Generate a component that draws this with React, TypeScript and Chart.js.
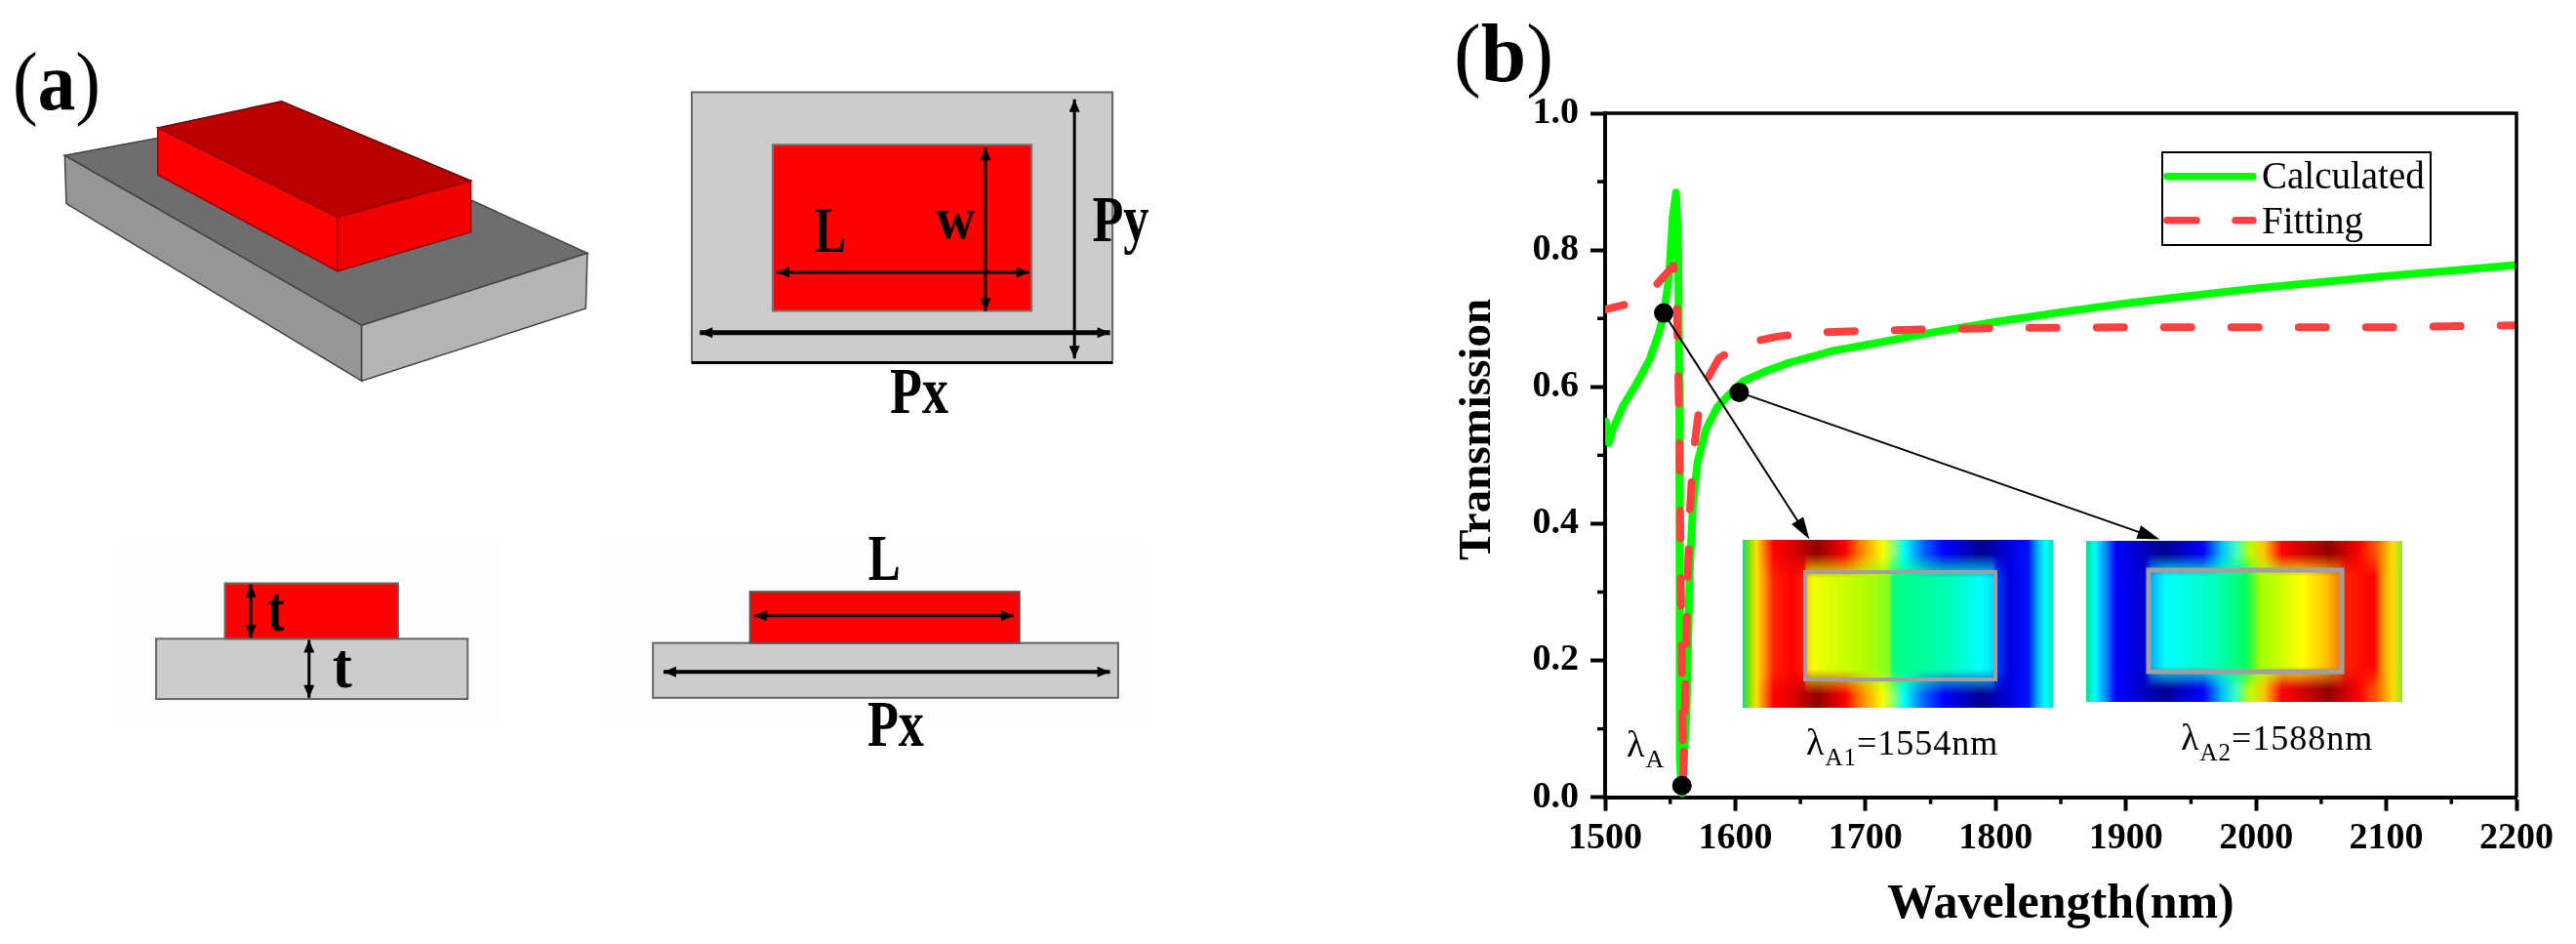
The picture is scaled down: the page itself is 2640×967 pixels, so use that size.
import React, { useEffect, useRef } from "react";
import { Chart, registerables } from "chart.js";

Chart.register(...registerables);

const SERIF = "'Liberation Serif', serif";

const calcX = [1500.5, 1503, 1506, 1514, 1524, 1534, 1541, 1545, 1549, 1552, 1554.5, 1556, 1557, 1557.2, 1557.6, 1559, 1562.5, 1565, 1567.5, 1571, 1577.5, 1586, 1596, 1606, 1621, 1641, 1676, 1700, 1750, 1800, 1850, 1900, 1950, 2000, 2050, 2100, 2150, 2200];
const calcY = [0.549, 0.518, 0.538, 0.573, 0.604, 0.639, 0.677, 0.704, 0.76, 0.85, 0.884, 0.815, 0.608, 0.331, 0.054, 0.006, 0.123, 0.331, 0.428, 0.49, 0.538, 0.57, 0.59, 0.608, 0.621, 0.635, 0.653, 0.661, 0.679, 0.695, 0.709, 0.722, 0.733, 0.744, 0.753, 0.762, 0.77, 0.778];
const fitX = [1500, 1519, 1535, 1552.5, 1555, 1556, 1557, 1557.5, 1558, 1559, 1560, 1562, 1563, 1565, 1567.5, 1572.5, 1577.5, 1587.5, 1606, 1631, 1655, 1700, 1750, 1800, 1900, 2000, 2100, 2200];
const fitY = [0.713, 0.722, 0.74, 0.777, 0.732, 0.642, 0.538, 0.435, 0.331, 0.192, 0.026, 0.192, 0.296, 0.414, 0.497, 0.573, 0.608, 0.642, 0.663, 0.673, 0.679, 0.682, 0.684, 0.686, 0.687, 0.687, 0.687, 0.69];
const markerX = [1545, 1603, 1559];
const markerY = [0.708, 0.592, 0.017];
const arrowTipX = [1657, 1926];
const arrowTipY = [0.377, 0.377];
const xMinor = [1550, 1650, 1750, 1850, 1950, 2050, 2150];
const yMinor = [0.1, 0.3, 0.5, 0.7, 0.9];
const seriesNames = ["Calculated", "Fitting"];
const xTitle = "Wavelength(nm)";
const yTitle = "Transmission";

type Stop = [number, string];
const map1Mid: Stop[] = [[0, "#00e090"], [0.02, "#80e000"], [0.044, "#ffe000"], [0.075, "#ff8000"], [0.1, "#ff2000"], [0.16, "#ff0000"], [0.197, "#ff2000"], [0.207, "#ffd000"], [0.227, "#f0ff00"], [0.4, "#b0ff00"], [0.47, "#80ff20"], [0.486, "#00ff80"], [0.65, "#00ffb0"], [0.77, "#00ffff"], [0.806, "#00e0ff"], [0.817, "#0040ff"], [0.86, "#0000e0"], [0.92, "#0010ff"], [0.95, "#00b0ff"], [0.975, "#00ffff"], [1, "#00e0c0"]];
const map1Edge: Stop[] = [[0, "#00e090"], [0.02, "#80e000"], [0.044, "#ffe000"], [0.1, "#ff0000"], [0.16, "#e00000"], [0.24, "#900000"], [0.33, "#ff0000"], [0.38, "#ff8000"], [0.45, "#ffff00"], [0.49, "#80ff80"], [0.52, "#00ffff"], [0.585, "#0060ff"], [0.65, "#0000ff"], [0.77, "#000090"], [0.86, "#0000e0"], [0.92, "#0010ff"], [0.95, "#00b0ff"], [0.975, "#00ffff"], [1, "#00e0c0"]];
const map2Mid: Stop[] = [[0, "#00e090"], [0.027, "#00ffff"], [0.065, "#0080ff"], [0.094, "#0000ff"], [0.184, "#0000d0"], [0.206, "#00b0ff"], [0.25, "#00ffff"], [0.4, "#00ffc0"], [0.505, "#00ff60"], [0.55, "#a0ff00"], [0.685, "#ffff00"], [0.76, "#ffc000"], [0.8, "#ff8000"], [0.82, "#ff2000"], [0.91, "#ff0000"], [0.94, "#ffa000"], [0.97, "#ffe000"], [1, "#90e030"]];
const map2Edge: Stop[] = [[0, "#00e090"], [0.027, "#00ffff"], [0.065, "#0080ff"], [0.094, "#0000ff"], [0.25, "#000090"], [0.37, "#0000ff"], [0.43, "#00c0ff"], [0.475, "#40ffc0"], [0.52, "#c0ff00"], [0.565, "#ffc000"], [0.62, "#ff0000"], [0.77, "#900000"], [0.864, "#ff0000"], [0.92, "#ff6000"], [0.97, "#ffe000"], [1, "#90e030"]];

function drawMap(c: CanvasRenderingContext2D, x0: number, y0: number, x1: number, y1: number, rx0: number, ry0: number, rx1: number, ry1: number, mid: Stop[], edge: Stop[], lw: number) {
  const grad = (stops: Stop[]) => {
    const g = c.createLinearGradient(x0, 0, x1, 0);
    stops.forEach(([f, col]) => g.addColorStop(f, col));
    return g;
  };
  c.save();
  c.fillStyle = grad(mid);
  c.fillRect(x0, y0, x1 - x0, y1 - y0);
  c.fillStyle = grad(edge);
  const band = ry0 - y0 + 6;
  for (let y = y0; y < y1; y++) {
    const d = Math.min(y - y0, y1 - 1 - y);
    const a = d < band * 0.35 ? 1 : Math.max(0, 1 - (d - band * 0.35) / (band * 0.65));
    if (a <= 0) continue;
    c.globalAlpha = a;
    c.fillRect(x0, y, x1 - x0, 1);
  }
  c.globalAlpha = 1;
  c.strokeStyle = "#a0a0a0";
  c.lineWidth = lw;
  c.strokeRect(rx0, ry0, rx1 - rx0, ry1 - ry0);
  c.restore();
}

function lambdaLabel(c: CanvasRenderingContext2D, x: number, base: number, sub: string, rest: string, size: number, subSize: number) {
  c.save();
  c.fillStyle = "#000";
  c.textAlign = "left";
  c.textBaseline = "alphabetic";
  (c as any).letterSpacing = "1px";
  c.font = `${size + 2}px ${SERIF}`;
  c.fillText("λ", x, base);
  let p = x + c.measureText("λ").width;
  c.font = `${subSize}px ${SERIF}`;
  c.fillText(sub, p, base + 11);
  p += c.measureText(sub).width;
  if (rest) {
    c.font = `${size}px ${SERIF}`;
    c.fillText(rest, p, base);
  }
  c.restore();
}

const decorPlugin = {
  id: "decor",
  afterDatasetsDraw(chart: any) {
    const c: CanvasRenderingContext2D = chart.ctx;
    const xs = chart.scales.x;
    const ys = chart.scales.y;
    const { left, right, top, bottom } = chart.chartArea;
    c.save();
    // frame and minor ticks
    c.strokeStyle = "#000";
    c.lineWidth = 3.5;
    c.beginPath();
    c.moveTo(left, top);
    c.lineTo(right, top);
    c.lineTo(right, bottom);
    c.stroke();
    xMinor.forEach((v) => {
      const p = xs.getPixelForValue(v);
      c.beginPath();
      c.moveTo(p, bottom);
      c.lineTo(p, bottom + 7);
      c.stroke();
    });
    yMinor.forEach((v) => {
      const p = ys.getPixelForValue(v);
      c.beginPath();
      c.moveTo(left, p);
      c.lineTo(left - 8, p);
      c.stroke();
    });
    // y axis title
    c.save();
    c.translate(1527, 440);
    c.rotate(-Math.PI / 2);
    c.fillStyle = "#000";
    c.textAlign = "center";
    c.textBaseline = "alphabetic";
    c.font = `bold 47px ${SERIF}`;
    c.fillText(yTitle, 0, 0);
    c.restore();
    // field maps
    drawMap(c, 1786, 553, 2104, 725, 1850, 586, 2045, 696, map1Mid, map1Edge, 4);
    drawMap(c, 2138, 554, 2462, 719, 2202, 584, 2400, 688, map2Mid, map2Edge, 5);
    // arrows
    arrowTipX.forEach((tx, i) => {
      const x0 = xs.getPixelForValue(markerX[i]);
      const y0 = ys.getPixelForValue(markerY[i]);
      const x1 = xs.getPixelForValue(tx);
      const y1 = ys.getPixelForValue(arrowTipY[i]);
      const ang = Math.atan2(y1 - y0, x1 - x0);
      c.strokeStyle = "#000";
      c.fillStyle = "#000";
      c.lineWidth = 2;
      c.beginPath();
      c.moveTo(x0, y0);
      c.lineTo(x1 - 14 * Math.cos(ang), y1 - 14 * Math.sin(ang));
      c.stroke();
      c.beginPath();
      c.moveTo(x1, y1);
      c.lineTo(x1 - 24 * Math.cos(ang - 0.3), y1 - 24 * Math.sin(ang - 0.3));
      c.lineTo(x1 - 24 * Math.cos(ang + 0.3), y1 - 24 * Math.sin(ang + 0.3));
      c.closePath();
      c.fill();
    });
    // labels
    lambdaLabel(c, 1667, 775, "A", "", 36, 26);
    lambdaLabel(c, 1851, 773, "A1", "=1554nm", 36, 25);
    lambdaLabel(c, 2235, 768, "A2", "=1588nm", 36, 25);
    // legend
    c.fillStyle = "#fff";
    c.strokeStyle = "#000";
    c.lineWidth = 2;
    c.fillRect(2216, 156, 275, 95);
    c.strokeRect(2216, 156, 275, 95);
    c.lineCap = "round";
    c.strokeStyle = "#00ff00";
    c.lineWidth = 7.5;
    c.beginPath();
    c.moveTo(2221, 180.7);
    c.lineTo(2309, 180.7);
    c.stroke();
    c.strokeStyle = "#ff4040";
    c.beginPath();
    c.moveTo(2221, 225.7);
    c.lineTo(2251, 225.7);
    c.moveTo(2291, 225.7);
    c.lineTo(2309, 225.7);
    c.stroke();
    c.fillStyle = "#000";
    c.font = `39px ${SERIF}`;
    c.textAlign = "left";
    c.textBaseline = "alphabetic";
    c.fillText(seriesNames[0], 2318, 192.5);
    c.fillText(seriesNames[1], 2318, 238.5);
    c.restore();
  },
};

const SX = 1 / 1.206;
const SY = 1 / 1.62;
const pts = (a: number[][]) => a.map(([x, y]) => `${x * SX},${y * SY}`).join(" ");

function Box({ x0, y0, x1, y1, fill, stroke = "#555", sw = 2 }: any) {
  return <rect x={x0 * SX} y={y0 * SY} width={(x1 - x0) * SX} height={(y1 - y0) * SY} fill={fill} stroke={stroke} strokeWidth={sw} />;
}

function DArrow({ x0, y0, x1, y1, w = 3 }: any) {
  const X0 = x0 * SX, Y0 = y0 * SY, X1 = x1 * SX, Y1 = y1 * SY;
  const ang = Math.atan2(Y1 - Y0, X1 - X0);
  const L = 13, H = 5.5;
  const head = (px: number, py: number, a: number) => {
    const bx = px - L * Math.cos(a), by = py - L * Math.sin(a);
    return `${px},${py} ${bx - H * Math.sin(a)},${by + H * Math.cos(a)} ${bx + H * Math.sin(a)},${by - H * Math.cos(a)}`;
  };
  return (
    <g>
      <line x1={X0} y1={Y0} x2={X1} y2={Y1} stroke="#000" strokeWidth={w} />
      <polygon points={head(X1, Y1, ang)} fill="#000" />
      <polygon points={head(X0, Y0, ang + Math.PI)} fill="#000" />
    </g>
  );
}

function T({ x, y, len, size = 68, children }: any) {
  return (
    <text x={x * SX} y={y * SY} fontFamily={SERIF} fontWeight="bold" fontSize={size} textLength={len} lengthAdjust="spacingAndGlyphs" fill="#000">
      {children}
    </text>
  );
}

export default function App() {
  const ref = useRef<HTMLCanvasElement>(null);
  useEffect(() => {
    document.body.style.margin = "0";
    const calcData = calcX.map((x, i) => ({ x, y: calcY[i] }));
    const fitData = fitX.map((x, i) => ({ x, y: fitY[i] }));
    const markerData = markerX.map((x, i) => ({ x, y: markerY[i] }));
    const chart = new Chart(ref.current as HTMLCanvasElement, {
      type: "line",
      data: {
        datasets: [
          { label: "λA", data: markerData, showLine: false, pointRadius: 10, pointBackgroundColor: "#000", pointBorderWidth: 0, order: 0 } as any,
          { label: seriesNames[1], data: fitData, borderColor: "#ff4040", borderWidth: 8, borderDash: [28, 41], borderDashOffset: 8, borderCapStyle: "round", borderJoinStyle: "round", pointRadius: 0, tension: 0, order: 1 } as any,
          { label: seriesNames[0], data: calcData, borderColor: "#00ff00", borderWidth: 8, borderCapStyle: "round", borderJoinStyle: "round", pointRadius: 0, tension: 0, order: 2 } as any,
        ],
      },
      options: {
        responsive: false,
        animation: false,
        devicePixelRatio: 1,
        layout: { padding: { left: 1494, top: 116, right: 61, bottom: 10 } },
        plugins: { legend: { display: false }, tooltip: { enabled: false } },
        scales: {
          x: {
            type: "linear",
            min: 1500,
            max: 2200,
            ticks: { stepSize: 100, maxRotation: 0, autoSkip: false, color: "#000", padding: 6, font: { family: SERIF, size: 38, weight: "bold" }, callback: (v: any) => String(v) },
            grid: { drawOnChartArea: false, drawTicks: true, tickLength: 14, tickColor: "#000", tickWidth: 4 },
            border: { color: "#000", width: 4 },
            title: { display: true, text: xTitle, color: "#000", padding: 0, font: { family: SERIF, size: 50, weight: "bold" } },
            afterFit(s: any) { s.height = 140.3; s.paddingLeft = 0; s.paddingRight = 0; },
          },
          y: {
            min: 0,
            max: 1,
            ticks: { stepSize: 0.2, color: "#000", padding: 12, font: { family: SERIF, size: 38, weight: "bold" }, callback: (v: any) => Number(v).toFixed(1) },
            grid: { drawOnChartArea: false, drawTicks: true, tickLength: 15, tickColor: "#000", tickWidth: 4 },
            border: { color: "#000", width: 4 },
            afterFit(s: any) { s.width = 151; s.paddingTop = 0; s.paddingBottom = 0; },
          },
        },
      } as any,
      plugins: [decorPlugin],
    });
    return () => chart.destroy();
  }, []);

  return (
    <div style={{ position: "absolute", left: 0, top: 0, width: 2640, height: 967, background: "#fff", overflow: "hidden" }}>
      <canvas ref={ref} width={2640} height={967} style={{ position: "absolute", left: 0, top: 0, display: "block" }} />
      <svg width={2640} height={967} style={{ position: "absolute", left: 0, top: 0, pointerEvents: "none" }}>
        <text x={13} y={112} fontFamily={SERIF} fontSize={84} textLength={90} lengthAdjust="spacingAndGlyphs">(<tspan fontWeight="bold">a</tspan>)</text>
        <text x={1490} y={83} fontFamily={SERIF} fontSize={84} textLength={102} lengthAdjust="spacingAndGlyphs">(<tspan fontWeight="bold">b</tspan>)</text>

        {/* 3D block */}
        <polygon points={pts([[80, 258], [350, 190], [726, 420], [447, 540]])} fill="#6e6e6e" stroke="#444" strokeWidth={1.5} />
        <polygon points={pts([[80, 258], [447, 540], [447, 632], [82, 338]])} fill="#969696" stroke="#444" strokeWidth={1.5} />
        <polygon points={pts([[447, 540], [726, 420], [724, 512], [447, 632]])} fill="#b4b4b4" stroke="#444" strokeWidth={1.5} />
        <polygon points={pts([[195, 212], [348, 168], [582, 300], [417, 360]])} fill="#bb0000" stroke="#600" strokeWidth={1.5} />
        <polygon points={pts([[195, 212], [417, 360], [417, 450], [195, 290]])} fill="#ff0000" stroke="#900" strokeWidth={1.5} />
        <polygon points={pts([[417, 360], [582, 300], [582, 385], [417, 450]])} fill="#f20000" stroke="#900" strokeWidth={1.5} />

        {/* top view */}
        <Box x0={855} y0={153} x1={1375} y1={602} fill="#cccccc" stroke="#666" />
        <line x1={855 * SX} y1={602 * SY} x2={1375 * SX} y2={602 * SY} stroke="#000" strokeWidth={3} />
        <Box x0={955} y0={240} x1={1275} y1={516} fill="#ff0000" stroke="#777" />
        <DArrow x0={1218} y0={245} x1={1218} y1={516} />
        <DArrow x0={960} y0={452} x1={1272} y1={452} />
        <DArrow x0={865} y0={552} x1={1372} y1={552} w={5} />
        <DArrow x0={1328} y0={165} x1={1328} y1={595} />
        <T x={1007} y={418} len={32}>L</T>
        <T x={1157} y={395} len={40} size={62}>w</T>
        <T x={1350} y={400} len={58}>Py</T>
        <T x={1100} y={686} len={60}>Px</T>

        {/* front views */}
        <rect x={150 * SX} y={895 * SY} width={460 * SX} height={300 * SY} fill="#fdfefd" />
        <Box x0={193} y0={1060} x1={578} y1={1160} fill="#cccccc" stroke="#666" />
        <Box x0={278} y0={968} x1={492} y1={1060} fill="#ff0000" stroke="#666" />
        <DArrow x0={310} y0={970} x1={310} y1={1058} />
        <DArrow x0={382} y0={1062} x1={382} y1={1158} />
        <T x={331} y={1046} len={17} size={66}>t</T>
        <T x={411} y={1140} len={20} size={66}>t</T>

        <rect x={750 * SX} y={905 * SY} width={668 * SX} height={290 * SY} fill="#fdfefd" />
        <Box x0={807} y0={1067} x1={1382} y1={1158} fill="#cccccc" stroke="#666" />
        <Box x0={927} y0={982} x1={1260} y1={1067} fill="#ff0000" stroke="#555" />
        <DArrow x0={932} y0={1022} x1={1253} y1={1022} />
        <DArrow x0={820} y0={1115} x1={1372} y1={1115} w={4} />
        <T x={1073} y={962} len={33}>L</T>
        <T x={1072} y={1238} len={58}>Px</T>
      </svg>
    </div>
  );
}
